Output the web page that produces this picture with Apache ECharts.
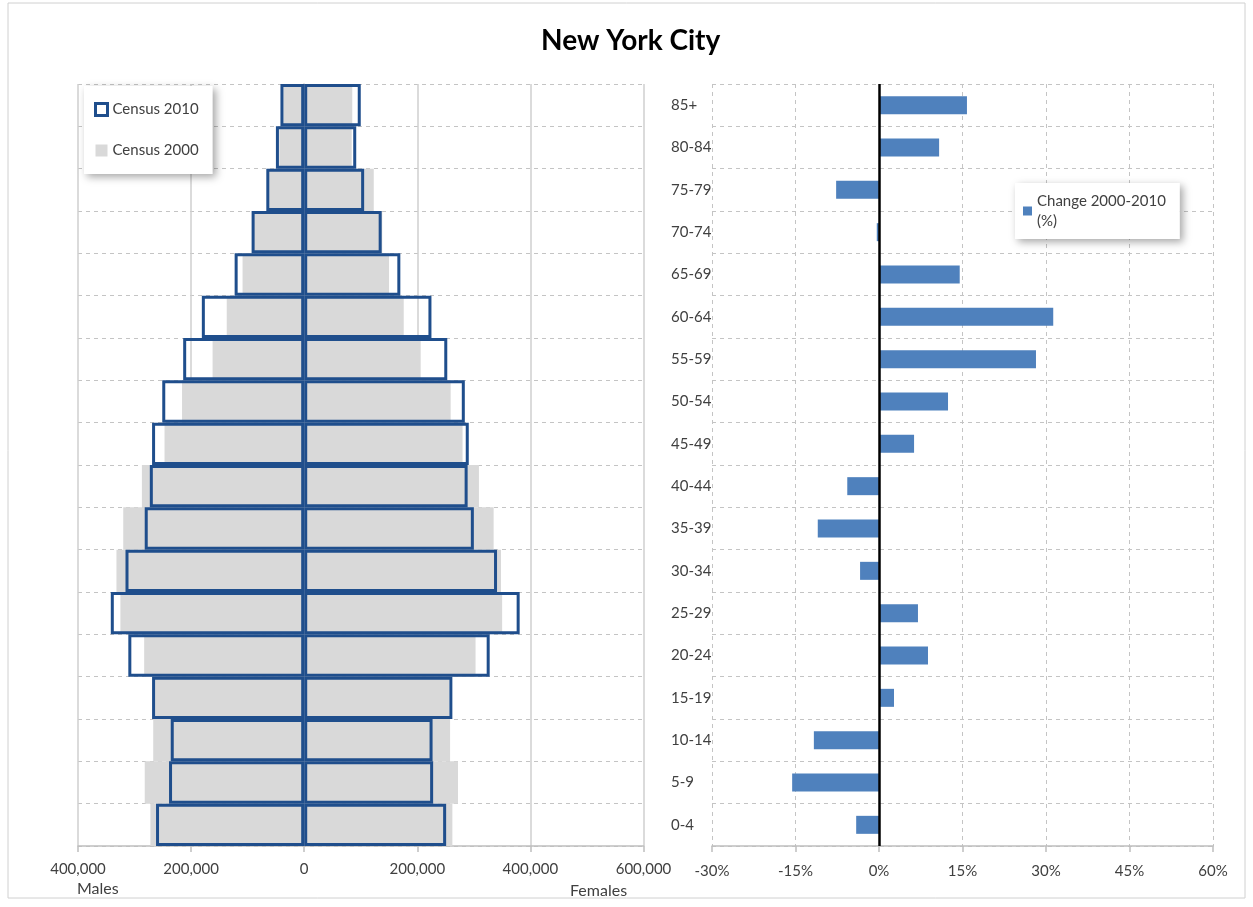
<!DOCTYPE html>
<html>
<head>
<meta charset="utf-8">
<title>New York City</title>
<script src="https://cdn.jsdelivr.net/npm/echarts@6/dist/echarts.min.js"></script>
<style>
  html, body { margin: 0; padding: 0; background: #fff; }
  #chart { width: 1253px; height: 907px; }
</style>
</head>
<body>
<div id="chart"></div>
<script>
// age groups, bottom (0-4) to top (85+)
var ageGroups = ['0-4', '5-9', '10-14', '15-19', '20-24', '25-29', '30-34', '35-39', '40-44',
  '45-49', '50-54', '55-59', '60-64', '65-69', '70-74', '75-79', '80-84', '85+']

var males2010 = [262000, 239000, 236000, 269000, 311000, 342000, 316000, 282000, 273000,
  269000, 251000, 214000, 181000, 123000, 93000, 67000, 50000, 42000]
var females2010 = [251000, 228000, 227000, 262000, 328000, 381000, 341000, 300000, 289000,
  291000, 284000, 253000, 225000, 170000, 137000, 106000, 92000, 100000]
var males2000 = [272000, 282000, 267000, 264000, 283000, 325000, 332000, 320000, 287000,
  247000, 216000, 162000, 137000, 109000, 92000, 65000, 44000, 37000]
var females2000 = [262000, 272000, 258000, 256000, 303000, 350000, 348000, 335000, 309000,
  280000, 259000, 206000, 176000, 150000, 138000, 123000, 84000, 85000]

// change 2000-2010 in percent
var changePct = [-4.1, -15.6, -11.7, 2.7, 8.8, 7.0, -3.4, -11.0, -5.7,
  6.3, 12.4, 28.2, 31.3, 14.5, -0.4, -7.7, 10.8, 15.8]

var font = 'Lato, "Open Sans", sans-serif'
var navy = '#1f4e8c'
var grey2000 = '#d9d9d9'
var labelColor = '#404040'

var chart = echarts.init(document.getElementById('chart'))

function neg(arr) {
  return arr.map(function (v) { return -v })
}

chart.setOption({
  animation: false,
  textStyle: { fontFamily: font },
  title: {
    text: 'New York City',
    left: 536,
    top: 22,
    textStyle: { fontFamily: font, fontSize: 28, fontWeight: 'bold', color: '#000' }
  },
  legend: [{
    orient: 'vertical',
    left: 84,
    top: 86,
    width: 129,
    padding: [16, 14, 16, 10],
    itemGap: 26,
    itemWidth: 12,
    itemHeight: 12,
    backgroundColor: '#fff',
    shadowBlur: 8,
    shadowColor: 'rgba(0,0,0,0.35)',
    shadowOffsetX: 3,
    shadowOffsetY: 3,
    textStyle: { fontFamily: font, fontSize: 15, color: labelColor },
    data: [
      { name: 'Census 2010', icon: 'rect', itemStyle: { color: '#fff', borderColor: navy, borderWidth: 3 } },
      { name: 'Census 2000', icon: 'rect', itemStyle: { color: grey2000, borderWidth: 0 } }
    ]
  }, {
    left: 1015,
    top: 183,
    padding: [8, 14, 8, 8],
    itemWidth: 9,
    itemHeight: 9,
    backgroundColor: '#fff',
    shadowBlur: 8,
    shadowColor: 'rgba(0,0,0,0.35)',
    shadowOffsetX: 3,
    shadowOffsetY: 3,
    textStyle: { fontFamily: font, fontSize: 15, color: labelColor, lineHeight: 20 },
    formatter: function () { return 'Change 2000-2010\n(%)' },
    data: [{ name: 'Change 2000-2010 (%)', icon: 'rect', itemStyle: { color: '#4f81bd' } }]
  }],
  grid: [
    { left: 78, right: 609.5, top: 84, bottom: 61 },
    { left: 712, right: 40, top: 84, bottom: 61 }
  ],
  xAxis: [{
    type: 'value',
    gridIndex: 0,
    min: -400000,
    max: 600000,
    interval: 200000,
    axisLine: { show: true, lineStyle: { color: '#bfbfbf', width: 1.5 } },
    axisTick: { show: true, length: 6, lineStyle: { color: '#bfbfbf', width: 1.5 } },
    axisLabel: {
      fontFamily: font,
      fontSize: 15,
      color: labelColor,
      margin: 16,
      formatter: function (v) { return Math.abs(v).toLocaleString('en-US') }
    },
    splitLine: { show: true, lineStyle: { color: '#cfcfcf', width: 1.5 } }
  }, {
    type: 'value',
    gridIndex: 1,
    min: -30,
    max: 60,
    interval: 15,
    axisLine: { show: true, lineStyle: { color: '#bfbfbf', width: 1.5 } },
    axisTick: { show: true, length: 6, lineStyle: { color: '#bfbfbf', width: 1.5 } },
    axisLabel: { fontFamily: font, fontSize: 15, color: labelColor, margin: 18, formatter: '{value}%' },
    splitLine: { show: true, lineStyle: { color: '#c4c4c4', type: [4, 4] } }
  }],
  yAxis: [{
    type: 'category',
    gridIndex: 0,
    data: ageGroups,
    axisLine: { show: true, lineStyle: { color: '#bfbfbf', width: 1.5 } },
    axisTick: { show: false },
    axisLabel: { show: false },
    splitLine: { show: true, lineStyle: { color: '#c4c4c4', type: [4, 4] } }
  }, {
    type: 'category',
    gridIndex: 1,
    data: ageGroups,
    axisLine: { show: false },
    axisTick: { show: false },
    axisLabel: { fontFamily: font, fontSize: 15, color: labelColor, align: 'left', margin: 41 },
    splitLine: { show: true, lineStyle: { color: '#c4c4c4', type: [4, 4] } }
  }],
  series: [{
    name: 'Census 2000',
    type: 'bar',
    stack: 'c2000',
    data: neg(males2000),
    itemStyle: { color: grey2000 },
    barCategoryGap: '0%'
  }, {
    name: 'Census 2000',
    type: 'bar',
    stack: 'c2000',
    data: females2000,
    itemStyle: { color: grey2000 },
    barCategoryGap: '0%'
  }, {
    name: 'Census 2010',
    type: 'bar',
    stack: 'c2010',
    data: neg(males2010),
    itemStyle: { color: 'transparent', borderColor: navy, borderWidth: 3 },
    barGap: '-100%',
    barCategoryGap: '0%'
  }, {
    name: 'Census 2010',
    type: 'bar',
    stack: 'c2010',
    data: females2010,
    itemStyle: { color: 'transparent', borderColor: navy, borderWidth: 3 },
    barGap: '-100%',
    barCategoryGap: '0%'
  }, {
    name: 'Change 2000-2010 (%)',
    type: 'bar',
    xAxisIndex: 1,
    yAxisIndex: 1,
    data: changePct,
    barWidth: 18,
    itemStyle: { color: '#4f81bd' },
    markLine: {
      silent: true,
      symbol: 'none',
      label: { show: false },
      lineStyle: { color: '#000', width: 2.5, type: 'solid' },
      data: [{ xAxis: 0 }]
    }
  }],
  graphic: [{
    type: 'rect',
    shape: { x: 8, y: 3, width: 1237, height: 895 },
    style: { fill: 'none', stroke: '#d0d0d0', lineWidth: 1 },
    silent: true
  }, {
    type: 'text',
    left: 77,
    top: 881,
    style: { text: 'Males', fontFamily: font, fontSize: 16, fill: labelColor }
  }, {
    type: 'text',
    left: 570,
    top: 883,
    style: { text: 'Females', fontFamily: font, fontSize: 16, fill: labelColor }
  }]
})
</script>
</body>
</html>
